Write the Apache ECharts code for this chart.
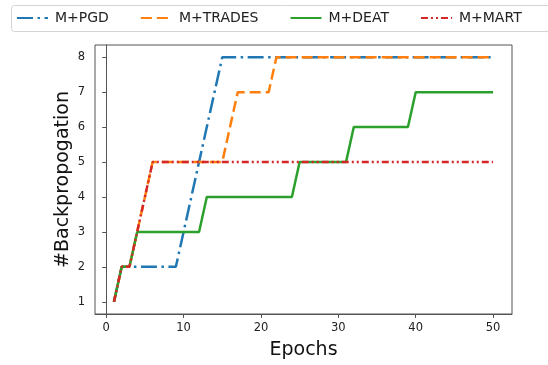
<!DOCTYPE html>
<html>
<head>
<meta charset="utf-8">
<script src="https://cdn.jsdelivr.net/npm/echarts@6/dist/echarts.min.js"></script>
<style>html,body{margin:0;padding:0;background:#fff;}#c{width:548px;height:365px;}</style>
</head>
<body>
<div id="c"></div>
<script>
const seriesNames = ['M+PGD', 'M+TRADES', 'M+DEAT', 'M+MART'];
const epochs = [1,2,3,4,5,6,7,8,9,10,11,12,13,14,15,16,17,18,19,20,21,22,23,24,25,26,27,28,29,30,31,32,33,34,35,36,37,38,39,40,41,42,43,44,45,46,47,48,49,50];
const pgd    = [1,2,2,2,2,2,2,2,2,3,4,5,6,7,8,8,8,8,8,8,8,8,8,8,8,8,8,8,8,8,8,8,8,8,8,8,8,8,8,8,8,8,8,8,8,8,8,8,8,8];
const trades = [1,2,2,3,4,5,5,5,5,5,5,5,5,5,5,6,7,7,7,7,7,8,8,8,8,8,8,8,8,8,8,8,8,8,8,8,8,8,8,8,8,8,8,8,8,8,8,8,8,8];
const deat   = [1,2,2,3,3,3,3,3,3,3,3,3,4,4,4,4,4,4,4,4,4,4,4,4,5,5,5,5,5,5,5,6,6,6,6,6,6,6,6,7,7,7,7,7,7,7,7,7,7,7];
const mart   = [1,2,2,3,4,5,5,5,5,5,5,5,5,5,5,5,5,5,5,5,5,5,5,5,5,5,5,5,5,5,5,5,5,5,5,5,5,5,5,5,5,5,5,5,5,5,5,5,5,5];
const xTicks = [0,10,20,30,40,50];
const yTicks = [1,2,3,4,5,6,7,8];
const xName = 'Epochs';
const yName = '#Backpropogation';

const colors = ['#1f77b4', '#ff7f0e', '#2ca02c', '#d62728'];
const dashes = [[16, 4.5, 2.5, 4.5], [11, 5], 'solid', [7, 3, 2, 3, 2, 3]];
const values = [pgd, trades, deat, mart];

const chart = echarts.init(document.getElementById('c'), null, {renderer: 'canvas'});
const axisColor = '#555';
const font = 'DejaVu Sans';
chart.setOption({
  animation: false,
  backgroundColor: '#fff',
  graphic: [{
    type: 'rect', left: 11, top: 5, z: -1,
    shape: {width: 560, height: 26, r: 3},
    style: {fill: '#fff', stroke: '#d4d4d4', lineWidth: 1}
  }],
  legend: {
    left: 16, top: 11, padding: 0, itemWidth: 31, itemHeight: 14, itemGap: 31,
    itemStyle: {opacity: 0},
    textStyle: {fontFamily: font, fontSize: 14, color: '#222', padding: [0, 0, 0, 2]},
    data: seriesNames
  },
  grid: {left: 95, right: 36, top: 45, bottom: 50, show: true, borderColor: axisColor, borderWidth: 1, containLabel: false},
  xAxis: {
    type: 'value', min: -1.45, max: 52.45,
    name: xName, nameLocation: 'middle', nameGap: 27, nameMoveOverlap: false,
    nameTextStyle: {fontFamily: font, fontSize: 19, color: '#111'},
    axisLine: {show: true, lineStyle: {color: axisColor}},
    axisTick: {show: true, length: 4, lineStyle: {color: axisColor}, customValues: xTicks},
    axisLabel: {fontFamily: font, fontSize: 11.5, color: '#222', margin: 8, customValues: xTicks},
    splitLine: {show: false}
  },
  yAxis: {
    type: 'value', min: 0.65, max: 8.35,
    name: yName, nameLocation: 'middle', nameGap: 22, nameMoveOverlap: false,
    nameTextStyle: {fontFamily: font, fontSize: 19, color: '#111'},
    axisLine: {show: true, lineStyle: {color: axisColor}},
    axisTick: {show: true, length: 4, lineStyle: {color: axisColor}, customValues: yTicks},
    axisLabel: {fontFamily: font, fontSize: 11.5, color: '#222', margin: 10, customValues: yTicks},
    splitLine: {show: false}
  },
  series: seriesNames.map((n, i) => ({
    name: n, type: 'line', symbol: 'none', z: 2 + i,
    data: epochs.map((e, j) => [e, values[i][j]]),
    itemStyle: {color: colors[i]},
    lineStyle: {color: colors[i], width: 2.5, type: dashes[i]}
  }))
});
</script>
</body>
</html>
